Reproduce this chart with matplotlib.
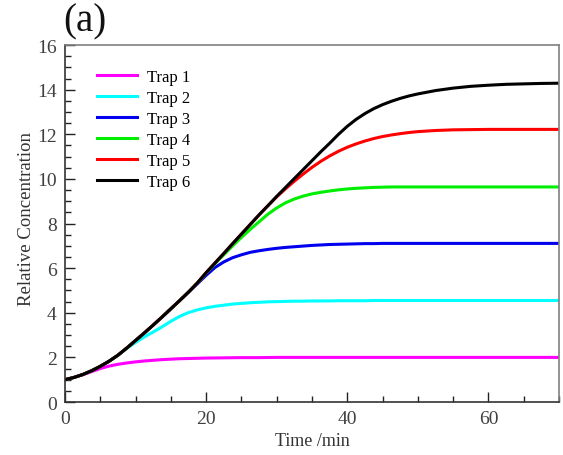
import matplotlib
matplotlib.use("Agg")
import matplotlib.pyplot as plt
from matplotlib.ticker import MultipleLocator

plt.rcParams['font.family'] = ['Liberation Serif', 'DejaVu Serif']

# time in minutes
t = [0, 1.25, 2.5, 3.75, 5, 6.25, 7.5, 8.75, 10, 11.25, 12.5, 13.75, 15, 16.25, 17.5,
     18.75, 20, 21.25, 22.5, 23.75, 25, 26.25, 27.5, 28.75, 30, 31.25, 32.5, 33.75, 35,
     36.25, 37.5, 38.75, 40, 41.25, 42.5, 43.75, 45, 46.25, 47.5, 48.75, 50,
     52.5, 55, 57.5, 60, 62.5, 65, 67.5, 70]

trap1 = [1.0, 1.1, 1.22, 1.36, 1.5, 1.61, 1.69, 1.75, 1.8, 1.84, 1.87, 1.9, 1.92, 1.94, 1.95,
         1.96, 1.97, 1.975, 1.98, 1.985, 1.99, 1.99, 1.99, 1.995, 2.0, 2.0, 2.0, 2.0, 2.0,
         2.0, 2.0, 2.0, 2.0, 2.0, 2.0, 2.0, 2.0, 2.0, 2.0, 2.0, 2.0,
         2.0, 2.0, 2.0, 2.0, 2.0, 2.0, 2.0, 2.0]
trap2 = [1.0, 1.1, 1.23, 1.4, 1.6, 1.83, 2.1, 2.4, 2.67, 2.92, 3.14, 3.37, 3.62, 3.84, 4.01,
         4.13, 4.22, 4.29, 4.34, 4.39, 4.42, 4.45, 4.47, 4.49, 4.5, 4.51, 4.52, 4.52, 4.53,
         4.53, 4.53, 4.54, 4.54, 4.54, 4.54, 4.55, 4.55, 4.55, 4.55, 4.55, 4.55,
         4.55, 4.55, 4.55, 4.55, 4.55, 4.55, 4.55, 4.55]
trap3 = [1.0, 1.1, 1.23, 1.4, 1.6, 1.83, 2.1, 2.42, 2.76, 3.1, 3.45, 3.81, 4.18, 4.55, 4.92,
         5.3, 5.68, 6.03, 6.28, 6.47, 6.6, 6.71, 6.78, 6.84, 6.89, 6.93, 6.96, 6.99, 7.02,
         7.04, 7.06, 7.07, 7.08, 7.09, 7.1, 7.1, 7.11, 7.11, 7.11, 7.11, 7.11,
         7.11, 7.11, 7.11, 7.11, 7.11, 7.11, 7.11, 7.11]
trap4 = [1.0, 1.1, 1.23, 1.4, 1.6, 1.83, 2.1, 2.42, 2.76, 3.1, 3.45, 3.81, 4.18, 4.55, 4.93,
         5.33, 5.78, 6.2, 6.6, 7.0, 7.38, 7.74, 8.08, 8.42, 8.7, 8.93, 9.1, 9.23, 9.33,
         9.4, 9.46, 9.51, 9.55, 9.58, 9.6, 9.62, 9.63, 9.64, 9.64, 9.64, 9.64,
         9.64, 9.64, 9.64, 9.64, 9.64, 9.64, 9.64, 9.64]
trap5 = [1.0, 1.1, 1.23, 1.4, 1.6, 1.83, 2.1, 2.42, 2.76, 3.1, 3.45, 3.81, 4.18, 4.55, 4.93,
         5.34, 5.8, 6.23, 6.66, 7.1, 7.53, 7.96, 8.39, 8.8, 9.2, 9.56, 9.9, 10.22, 10.52,
         10.79, 11.03, 11.24, 11.42, 11.57, 11.7, 11.81, 11.9, 11.97, 12.03, 12.08, 12.12,
         12.17, 12.2, 12.21, 12.22, 12.22, 12.22, 12.22, 12.22]
trap6 = [1.0, 1.1, 1.23, 1.4, 1.6, 1.83, 2.1, 2.42, 2.76, 3.1, 3.45, 3.81, 4.18, 4.55, 4.93,
         5.34, 5.8, 6.23, 6.66, 7.1, 7.53, 7.96, 8.39, 8.8, 9.22, 9.62, 10.02, 10.42, 10.82,
         11.22, 11.6, 12.0, 12.36, 12.67, 12.93, 13.15, 13.33, 13.48, 13.61, 13.72, 13.81,
         13.96, 14.07, 14.15, 14.2, 14.24, 14.26, 14.28, 14.29]

labels = ['Trap 1', 'Trap 2', 'Trap 3', 'Trap 4', 'Trap 5', 'Trap 6']
colors = ['#ff00ff', '#00ffff', '#0000ee', '#00ee00', '#ff0000', '#000000']

fig = plt.figure(figsize=(5.63, 4.56), dpi=100)
ax = fig.add_axes([0.1155, 0.1162, 0.8775, 0.7828])

for y, lab, c in zip([trap1, trap2, trap3, trap4, trap5, trap6], labels, colors):
    ax.plot(t, y, color=c, lw=2.2, label=lab, solid_joinstyle='round')

ax.set_xlim(0, 70)
ax.set_ylim(0, 16)
ax.xaxis.set_major_locator(MultipleLocator(20))
ax.xaxis.set_minor_locator(MultipleLocator(5))
ax.yaxis.set_major_locator(MultipleLocator(2))
ax.yaxis.set_minor_locator(MultipleLocator(0.5))
ax.tick_params(which='both', direction='in', top=False, right=False,
               labelsize=14, labelcolor='#404040', color='#222222')
ax.tick_params(which='major', length=7, width=1, pad=6)
ax.tick_params(which='minor', length=4.3, width=1)

for side in ['left', 'bottom']:
    ax.spines[side].set_color('#333333')
for side in ['top', 'right']:
    ax.spines[side].set_color('#808080')
for s in ax.spines.values():
    s.set_linewidth(1.2)

ax.set_xlabel('Time /min', fontsize=13, color='#333333', labelpad=3)
ax.set_ylabel('Relative Concentration', fontsize=13.5, color='#333333')
ax.yaxis.set_label_coords(-0.06, 0.515)

ax.legend(loc='upper left', bbox_to_anchor=(0.035, 0.975), frameon=False,
          fontsize=12, handlelength=2.4, handletextpad=0.6, labelspacing=0.3)

fig.text(0.151, 0.952, '(a)', fontsize=28, ha='center', va='center', color='#111111')

fig.savefig('out.png', dpi=100)
